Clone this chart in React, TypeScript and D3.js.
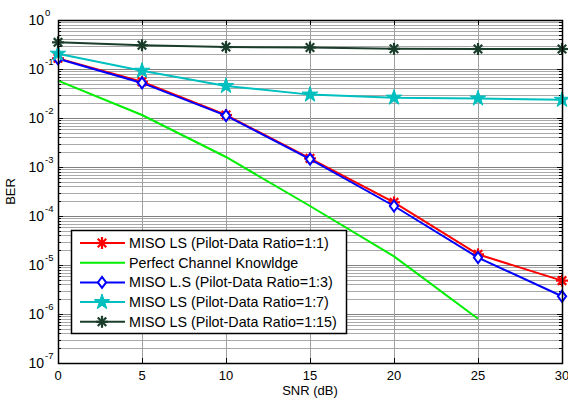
import React, { useEffect, useRef } from "react";
import * as d3 from "d3";

const snr = [0, 5, 10, 15, 20, 25, 30];
const ls11 = [0.165, 0.055, 0.0115, 0.0015, 0.00019, 0.0000165, 0.0000048];
const perfect = [0.058, 0.0115, 0.0016, 0.00016, 0.000015, 0.0000008];
const ls13 = [0.162, 0.052, 0.0112, 0.00145, 0.00016, 0.0000142, 0.0000023];
const ls17 = [0.205, 0.092, 0.045, 0.030, 0.026, 0.025, 0.0235];
const ls115 = [0.35, 0.305, 0.28, 0.275, 0.258, 0.256, 0.256];

const xTicks = [0, 5, 10, 15, 20, 25, 30];
const yExps = [0, -1, -2, -3, -4, -5, -6, -7];

const series = [
  { name: "MISO LS (Pilot-Data Ratio=1:1)", values: ls11, color: "#ff0000", marker: "asterisk" },
  { name: "Perfect Channel Knowldge", values: perfect, color: "#00ee00", marker: "none" },
  { name: "MISO L.S (Pilot-Data Ratio=1:3)", values: ls13, color: "#0000ff", marker: "diamond" },
  { name: "MISO LS (Pilot-Data Ratio=1:7)", values: ls17, color: "#00bfbf", marker: "star" },
  { name: "MISO LS (Pilot-Data Ratio=1:15)", values: ls115, color: "#1b3d2b", marker: "asterisk" },
];

const App = () => {
  const svgRef = useRef<SVGSVGElement>(null);

  useEffect(() => {
    const width = 568;
    const height = 403;
    const margin = { top: 20, right: 6, bottom: 40, left: 58 };
    const w = width - margin.left - margin.right;
    const h = height - margin.top - margin.bottom;

    const root = d3.select(svgRef.current);
    root.selectAll("*").remove();
    root.attr("width", width).attr("height", height);

    const svg = root.append("g").attr("transform", `translate(${margin.left},${margin.top})`);

    const x = d3.scaleLinear().domain([0, 30]).range([0, w]);
    const y = d3.scaleLog().domain([1e-7, 1]).range([h, 0]);

    svg.append("rect").attr("width", w).attr("height", h).attr("fill", "white");

    // grid
    const minor: number[] = [];
    for (let e = -7; e < 0; e++) {
      for (let m = 2; m <= 9; m++) minor.push(m * Math.pow(10, e));
    }
    const grid = svg.append("g");
    grid
      .selectAll("line.minor")
      .data(minor)
      .enter()
      .append("line")
      .attr("x1", 0)
      .attr("x2", w)
      .attr("y1", (d) => Math.round(y(d)) + 0.5)
      .attr("y2", (d) => Math.round(y(d)) + 0.5)
      .attr("stroke", "#a8a8a8")
      .attr("stroke-width", 1);
    grid
      .selectAll("line.major")
      .data(yExps.slice(1, -1))
      .enter()
      .append("line")
      .attr("x1", 0)
      .attr("x2", w)
      .attr("y1", (d) => Math.round(y(Math.pow(10, d))) + 0.5)
      .attr("y2", (d) => Math.round(y(Math.pow(10, d))) + 0.5)
      .attr("stroke", "#808080")
      .attr("stroke-width", 1);
    grid
      .selectAll("line.v")
      .data(xTicks.slice(1, -1))
      .enter()
      .append("line")
      .attr("x1", (d) => Math.round(x(d)) + 0.5)
      .attr("x2", (d) => Math.round(x(d)) + 0.5)
      .attr("y1", 0)
      .attr("y2", h)
      .attr("stroke", "#a0a0a0")
      .attr("stroke-width", 1);

    // ticks inside the box
    const ticks = svg.append("g").attr("stroke", "black").attr("stroke-width", 1);
    xTicks.forEach((t) => {
      const px = Math.round(x(t)) + 0.5;
      ticks.append("line").attr("x1", px).attr("x2", px).attr("y1", h).attr("y2", h - 5);
      ticks.append("line").attr("x1", px).attr("x2", px).attr("y1", 0).attr("y2", 5);
    });
    minor.forEach((v) => {
      const py = Math.round(y(v)) + 0.5;
      ticks.append("line").attr("x1", 0).attr("x2", 3).attr("y1", py).attr("y2", py);
      ticks.append("line").attr("x1", w).attr("x2", w - 3).attr("y1", py).attr("y2", py);
    });
    yExps.forEach((e) => {
      const py = Math.round(y(Math.pow(10, e))) + 0.5;
      ticks.append("line").attr("x1", 0).attr("x2", 5).attr("y1", py).attr("y2", py);
      ticks.append("line").attr("x1", w).attr("x2", w - 5).attr("y1", py).attr("y2", py);
    });

    // lines
    const line = d3
      .line<number>()
      .x((_, i) => x(snr[i]))
      .y((d) => y(d));

    const drawMarker = (g: any, kind: string, color: string, cx: number, cy: number) => {
      if (kind === "asterisk") {
        const r = 6;
        const p = g.append("g").attr("stroke", color).attr("stroke-width", 2.2);
        [0, 45, 90, 135].forEach((a) => {
          const rad = (a * Math.PI) / 180;
          p.append("line")
            .attr("x1", cx - r * Math.cos(rad))
            .attr("y1", cy - r * Math.sin(rad))
            .attr("x2", cx + r * Math.cos(rad))
            .attr("y2", cy + r * Math.sin(rad));
        });
      } else if (kind === "diamond") {
        const r = 5.5;
        g.append("path")
          .attr("d", `M${cx},${cy - r}L${cx + r * 0.75},${cy}L${cx},${cy + r}L${cx - r * 0.75},${cy}Z`)
          .attr("fill", "white")
          .attr("stroke", color)
          .attr("stroke-width", 2);
      } else if (kind === "star") {
        g.append("path")
          .attr("d", d3.symbol().type(d3.symbolStar).size(75)())
          .attr("transform", `translate(${cx},${cy})`)
          .attr("fill", color)
          .attr("stroke", color)
          .attr("stroke-width", 1);
      }
    };

    const plot = svg.append("g");
    series.forEach((s) => {
      plot
        .append("path")
        .datum(s.values)
        .attr("d", line)
        .attr("fill", "none")
        .attr("stroke", s.color)
        .attr("stroke-width", 2);
      s.values.forEach((v, i) => drawMarker(plot, s.marker, s.color, x(snr[i]), y(v)));
    });

    // box
    svg
      .append("rect")
      .attr("x", 0.5)
      .attr("y", 0.5)
      .attr("width", w)
      .attr("height", h)
      .attr("fill", "none")
      .attr("stroke", "black")
      .attr("stroke-width", 1.5);

    // tick labels
    const font = "'Liberation Sans', Arial, sans-serif";
    xTicks.forEach((t) => {
      svg
        .append("text")
        .attr("x", x(t))
        .attr("y", h + 17)
        .attr("text-anchor", "middle")
        .attr("font-family", font)
        .attr("font-size", 13)
        .text(t);
    });
    yExps.forEach((e) => {
      svg
        .append("text")
        .attr("x", -14)
        .attr("y", y(Math.pow(10, e)) + 5)
        .attr("text-anchor", "end")
        .attr("font-family", font)
        .attr("font-size", 14)
        .text("10");
      svg
        .append("text")
        .attr("x", -13)
        .attr("y", y(Math.pow(10, e)) - 4)
        .attr("font-family", font)
        .attr("font-size", 9.5)
        .text(e);
    });

    svg
      .append("text")
      .attr("x", w / 2)
      .attr("y", h + 32)
      .attr("text-anchor", "middle")
      .attr("font-family", font)
      .attr("font-size", 13)
      .text("SNR (dB)");
    svg
      .append("text")
      .attr("transform", `translate(${-43},${h / 2}) rotate(-90)`)
      .attr("text-anchor", "middle")
      .attr("font-family", font)
      .attr("font-size", 13)
      .text("BER");

    // legend
    const lx = 71 - margin.left;
    const ly = 230 - margin.top;
    const legend = svg.append("g");
    legend
      .append("rect")
      .attr("x", lx + 0.5)
      .attr("y", ly + 0.5)
      .attr("width", 275)
      .attr("height", 103)
      .attr("fill", "white")
      .attr("stroke", "black")
      .attr("stroke-width", 1.5);
    series.forEach((s, i) => {
      const cy = ly + 13 + i * 19.7;
      legend
        .append("line")
        .attr("x1", lx + 9)
        .attr("x2", lx + 54)
        .attr("y1", cy)
        .attr("y2", cy)
        .attr("stroke", s.color)
        .attr("stroke-width", 2);
      drawMarker(legend, s.marker, s.color, lx + 31, cy);
      legend
        .append("text")
        .attr("x", lx + 58)
        .attr("y", cy + 5)
        .attr("font-family", font)
        .attr("font-size", 14.3)
        .text(s.name);
    });
  }, []);

  return <svg ref={svgRef} style={{ position: "absolute", left: 0, top: 0 }} />;
};

export default App;
